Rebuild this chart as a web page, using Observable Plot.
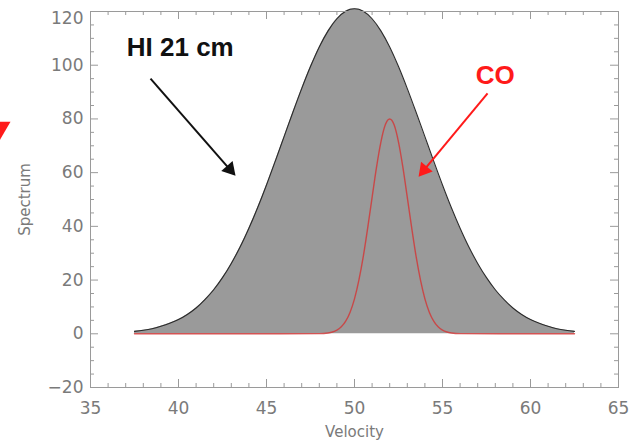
<!DOCTYPE html>
<html><head><meta charset="utf-8">
<script src="https://cdn.jsdelivr.net/npm/d3@7"></script>
<script src="https://cdn.jsdelivr.net/npm/@observablehq/plot@0.6"></script>
<style>body{margin:0;background:#fff}</style>
</head><body><div id="chart"></div>
<script>
// HI 21 cm spectrum
const velocityHI = [37.5,38,38.5,39,39.5,40,40.5,41,41.5,42,42.5,43,43.5,44,44.5,45,45.5,46,46.5,47,47.5,48,48.5,49,49.5,50,50.5,51,51.5,52,52.5,53,53.5,54,54.5,55,55.5,56,56.5,57,57.5,58,58.5,59,59.5,60,60.5,61,61.5,62,62.5];
const spectrumHI = [0.9,1.3,1.9,2.8,3.9,5.3,7.2,9.6,12.7,16.4,20.9,26.2,32.3,39.3,47.0,55.4,64.3,73.4,82.5,91.3,99.5,106.8,112.8,117.3,120.1,121,120.1,117.3,112.8,106.8,99.5,91.3,82.5,73.4,64.3,55.4,47.0,39.3,32.3,26.2,20.9,16.4,12.7,9.6,7.2,5.3,3.9,2.8,1.9,1.3,0.9];
// CO spectrum
const velocityCO = [37.5,40,44,48,48.5,48.75,49,49.25,49.5,49.75,50,50.25,50.5,50.75,51,51.25,51.5,51.75,52,52.25,52.5,52.75,53,53.25,53.5,53.75,54,54.25,54.5,54.75,55,55.25,55.5,56,60,62.5];
const spectrumCO = [0,0,0,0.06,0.31,0.66,1.35,2.59,4.7,8.06,13.0,19.95,28.8,39.4,50.8,62.0,71.4,77.8,80,77.8,71.4,62.0,50.8,39.4,28.8,19.95,13.0,8.06,4.7,2.59,1.35,0.66,0.31,0.06,0,0];
// axis ticks
const xMajorTicks = [35,40,45,50,55,60,65];
const xMinorTicks = [36,37,38,39,41,42,43,44,46,47,48,49,51,52,53,54,56,57,58,59,61,62,63,64];
const yMajorTicks = [-20,0,20,40,60,80,100,120];
const yMinorTicks = [-15,-10,-5,5,10,15,25,30,35,45,50,55,65,70,75,85,90,95,105,110,115];
// annotations
const annotationText = ["HI 21 cm", "CO"];
const annotationTextX = [40.1, 58.0];
const annotationTextY = [106.6, 96.1];
const arrowX1 = [38.41, 57.56];
const arrowY1 = [95.0, 89.5];
const arrowX2 = [43.24, 53.64];
const arrowY2 = [58.8, 58.5];
// stray arrowhead at left edge of the picture
const strayX = [29.72];
const strayY = [76.2];

const W = 632, H = 440, mL = 90, mR = 14, mT = 11, mB = 53;
const xDom = [35, 65], yDom = [-20, 120];
const plotW = W - mL - mR, plotH = H - mT - mB;
const kx = plotW / (xDom[1] - xDom[0]);
const ky = plotH / (yDom[1] - yDom[0]);

const hi = velocityHI.map((v, i) => ({v, s: spectrumHI[i]}));
const co = velocityCO.map((v, i) => ({v, s: spectrumCO[i]}));
const colors = ["#111111", "#ff1a1a"];
const headR = 5.6;
const tipDist = 2 * Math.sqrt(Math.PI * headR * headR / (3 * Math.sqrt(3)));
const arrows = annotationText.map((t, i) => {
  const dxp = (arrowX2[i] - arrowX1[i]) * kx, dyp = -(arrowY2[i] - arrowY1[i]) * ky;
  const len = Math.hypot(dxp, dyp), ux = dxp / len, uy = dyp / len;
  return {
    text: t, tx: annotationTextX[i], ty: annotationTextY[i],
    x1: arrowX1[i], y1: arrowY1[i], x2: arrowX2[i], y2: arrowY2[i],
    hx: arrowX2[i] - ux * tipDist / kx, hy: arrowY2[i] + uy * tipDist / ky,
    rot: Math.atan2(dyp, dxp) * 180 / Math.PI + 90,
    color: colors[i]
  };
});
const stray = strayX.map((x, i) => ({x, y: strayY[i]}));

const gray = "#9a9a9a";
const txtGray = "#7a7a7a";
const major = 8, minor = 4;
const plot = Plot.plot({
  width: W, height: H, marginLeft: mL, marginRight: mR, marginTop: mT, marginBottom: mB,
  x: {domain: xDom, axis: null}, y: {domain: yDom, axis: null},
  style: {fontFamily: "DejaVu Sans", background: "#fff"},
  marks: [
    Plot.areaY(hi, {x: "v", y: "s", fill: "#9a9a9a", curve: "monotone-x"}),
    Plot.lineY(hi, {x: "v", y: "s", stroke: "#2a2a2a", strokeWidth: 1.1, curve: "monotone-x"}),
    Plot.lineY(co, {x: "v", y: "s", stroke: "#d03a3a", strokeWidth: 1.4, strokeOpacity: 0.85, curve: "monotone-x"}),
    Plot.frame({stroke: gray}),
    // inward ticks on all four sides
    Plot.tickX(xMajorTicks, {x: d => d, insetTop: plotH - major, stroke: gray}),
    Plot.tickX(xMinorTicks, {x: d => d, insetTop: plotH - minor, stroke: gray}),
    Plot.tickX(xMajorTicks, {x: d => d, insetBottom: plotH - major, stroke: gray}),
    Plot.tickX(xMinorTicks, {x: d => d, insetBottom: plotH - minor, stroke: gray}),
    Plot.tickY(yMajorTicks, {y: d => d, insetRight: plotW - major, stroke: gray}),
    Plot.tickY(yMinorTicks, {y: d => d, insetRight: plotW - minor, stroke: gray}),
    Plot.tickY(yMajorTicks, {y: d => d, insetLeft: plotW - major, stroke: gray}),
    Plot.tickY(yMinorTicks, {y: d => d, insetLeft: plotW - minor, stroke: gray}),
    // tick labels
    Plot.axisX(xMajorTicks, {anchor: "bottom", tickSize: 0, tickPadding: 14, fontSize: 17, color: txtGray, label: null}),
    Plot.axisY(yMajorTicks.slice(0, -1), {anchor: "left", tickSize: 0, tickPadding: 7, fontSize: 17, color: txtGray, label: null}),
    Plot.axisY(yMajorTicks.slice(-1), {anchor: "left", tickSize: 0, tickPadding: 7, dy: 7, fontSize: 17, color: txtGray, label: null}),
    Plot.text(["Velocity"], {frameAnchor: "bottom", text: d => d, dy: 45, fontSize: 15, fill: txtGray, letterSpacing: "0.8px", textAnchor: "middle", lineAnchor: "middle"}),
    Plot.text(["Spectrum"], {frameAnchor: "left", text: d => d, dx: -65, rotate: -90, fontSize: 15, fill: txtGray, letterSpacing: "1px", textAnchor: "middle", lineAnchor: "middle"}),
    // annotations
    Plot.link(arrows, {x1: "x1", y1: "y1", x2: "hx", y2: "hy", stroke: "color", strokeWidth: 2}),
    Plot.dot(arrows, {x: "hx", y: "hy", symbol: "triangle", r: headR, rotate: "rot", fill: "color", stroke: null}),
    Plot.text(arrows, {x: "tx", y: "ty", text: "text", fill: "color", fontSize: 26, fontWeight: "bold", fontFamily: "Liberation Sans", lineAnchor: "middle"}),
    Plot.dot(stray, {x: "x", y: "y", symbol: "triangle", r: 9.6, rotate: 180, fill: "#ff1a1a", stroke: null})
  ]
});
document.getElementById("chart").append(plot);
</script>
</body></html>
